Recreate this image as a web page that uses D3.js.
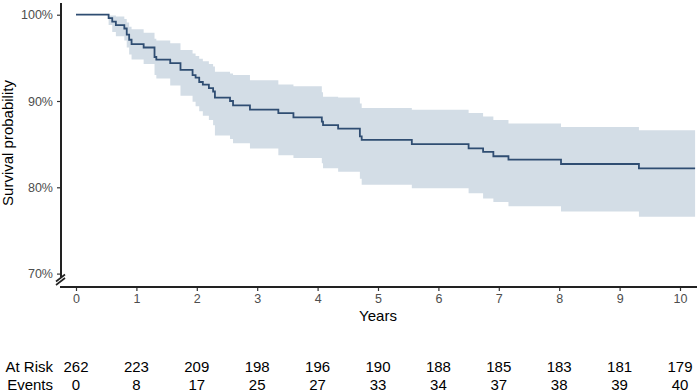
<!DOCTYPE html>
<html>
<head>
<meta charset="utf-8">
<script src="https://cdn.jsdelivr.net/npm/d3@7"></script>
<style>
  html, body { margin: 0; padding: 0; background: #fff; }
  svg { display: block; font-family: "Liberation Sans", Arial, sans-serif; }
</style>
</head>
<body>
<div id="chart"></div>
<script>
// Kaplan-Meier step points (years, % surviving)
const times    = [0, 0.54, 0.60, 0.66, 0.80, 0.84, 0.88, 0.92, 1.12, 1.30, 1.33, 1.56, 1.73, 1.93, 1.98,
                  2.04, 2.10, 2.20, 2.27, 2.30, 2.55, 2.60, 2.88, 3.35, 3.60, 4.07, 4.09, 4.34, 4.70, 4.73,
                  5.56, 6.50, 6.74, 6.91, 7.16, 8.03, 9.32];
const survival = [100, 99.6, 99.2, 98.8, 98.4, 97.7, 97.1, 96.6, 96.2, 95.1, 94.8, 94.4, 93.6, 93.0, 92.7,
                  92.2, 91.9, 91.5, 91.1, 90.4, 90.0, 89.5, 89.0, 88.6, 88.1, 87.6, 87.2, 86.8, 85.9, 85.5,
                  85.0, 84.5, 84.1, 83.6, 83.2, 82.7, 82.2];
const upper    = [100, 99.9, 99.9, 99.8, 99.5, 99.1, 98.6, 98.3, 97.9, 97.2, 97.0, 96.7, 95.9, 95.5, 95.2,
                  94.9, 94.6, 94.3, 94.0, 93.4, 93.2, 93.0, 92.4, 91.9, 91.7, 91.0, 90.5, 90.4, 89.7, 89.2,
                  89.0, 88.6, 88.2, 87.8, 87.4, 87.0, 86.6];
const lower    = [100, 98.8, 98.0, 97.5, 97.0, 96.2, 95.4, 94.8, 94.3, 93.0, 92.6, 91.8, 90.6, 89.9, 89.4,
                  88.8, 88.3, 87.8, 87.2, 86.0, 85.6, 85.1, 84.5, 83.7, 83.4, 82.8, 82.2, 81.8, 81.0, 80.3,
                  79.9, 79.3, 78.7, 78.3, 77.8, 77.2, 76.6];
const endTime = 10.25;

// axis ticks
const xTicks = [0, 1, 2, 3, 4, 5, 6, 7, 8, 9, 10];
const yTicks = [70, 80, 90, 100];

// risk table
const tableYears = [0, 1, 2, 3, 4, 5, 6, 7, 8, 9, 10];
const atRisk = [262, 223, 209, 198, 196, 190, 188, 185, 183, 181, 179];
const events = [0, 8, 17, 25, 27, 33, 34, 37, 38, 39, 40];

const W = 697, H = 392;
const axisX = 61, axisY = 287;

const svg = d3.select("#chart").append("svg")
  .attr("width", W).attr("height", H);

const x = d3.scaleLinear().domain([0, 10]).range([76, 680]);
const y = d3.scaleLinear().domain([70, 100]).range([273.6, 14.7]);

// build step data, extending the last value to the end of follow-up
const pts = times.map((t, i) => ({t: t, s: survival[i], hi: upper[i], lo: lower[i]}));
const last = pts[pts.length - 1];
pts.push({t: endTime, s: last.s, hi: last.hi, lo: last.lo});

const band = d3.area()
  .curve(d3.curveStepAfter)
  .x(d => x(d.t))
  .y0(d => y(d.lo))
  .y1(d => y(d.hi));

const line = d3.line()
  .curve(d3.curveStepAfter)
  .x(d => x(d.t))
  .y(d => y(d.s));

svg.append("path")
  .datum(pts)
  .attr("d", band)
  .attr("fill", "#d3dde6");

svg.append("path")
  .datum(pts)
  .attr("d", line)
  .attr("fill", "none")
  .attr("stroke", "#2f4d72")
  .attr("stroke-width", 1.8);

// y axis (line stops above the break)
const yAxis = svg.append("g")
  .attr("transform", "translate(" + axisX + ",0)")
  .call(d3.axisLeft(y).tickValues(yTicks).tickFormat(d => d + "%").tickSize(4).tickSizeOuter(0));
yAxis.select(".domain").remove();
yAxis.selectAll(".tick line").attr("stroke", "#333").attr("stroke-width", 1.2);
yAxis.selectAll(".tick text")
  .attr("fill", "#4d4d4d")
  .attr("font-size", 12.5)
  .attr("x", -8);

svg.append("line")
  .attr("x1", axisX).attr("x2", axisX)
  .attr("y1", 3).attr("y2", 277)
  .attr("stroke", "#222").attr("stroke-width", 2);

// axis break marks
[0, 3.5].forEach(off => {
  svg.append("line")
    .attr("x1", axisX - 5).attr("y1", 284 - off + 1)
    .attr("x2", axisX + 4).attr("y2", 277 - off + 1)
    .attr("stroke", "#222").attr("stroke-width", 1.6);
});

// x axis
const xAxis = svg.append("g")
  .attr("transform", "translate(0," + axisY + ")")
  .call(d3.axisBottom(x).tickValues(xTicks).tickSize(4).tickSizeOuter(0));
xAxis.select(".domain").remove();
xAxis.selectAll(".tick line").attr("stroke", "#333").attr("stroke-width", 1.2);
xAxis.selectAll(".tick text")
  .attr("fill", "#4d4d4d")
  .attr("font-size", 12.5)
  .attr("y", 7);

svg.append("line")
  .attr("x1", axisX - 1).attr("x2", W)
  .attr("y1", axisY).attr("y2", axisY)
  .attr("stroke", "#222").attr("stroke-width", 2);

// titles
svg.append("text")
  .attr("x", x(5)).attr("y", 321)
  .attr("text-anchor", "middle")
  .attr("font-size", 15)
  .attr("fill", "#000")
  .text("Years");

svg.append("text")
  .attr("transform", "translate(13,143) rotate(-90)")
  .attr("text-anchor", "middle")
  .attr("font-size", 15)
  .attr("fill", "#000")
  .text("Survival probability");

// risk table
const rows = [
  {label: "At Risk", values: atRisk, yPos: 372},
  {label: "Events", values: events, yPos: 390}
];
rows.forEach(r => {
  svg.append("text")
    .attr("x", 53).attr("y", r.yPos)
    .attr("text-anchor", "end")
    .attr("font-size", 15)
    .attr("fill", "#000")
    .text(r.label);
  svg.selectAll(null)
    .data(tableYears)
    .enter().append("text")
    .attr("x", d => x(d))
    .attr("y", r.yPos)
    .attr("text-anchor", "middle")
    .attr("font-size", 15)
    .attr("fill", "#000")
    .text((d, i) => r.values[i]);
});
</script>
</body>
</html>
